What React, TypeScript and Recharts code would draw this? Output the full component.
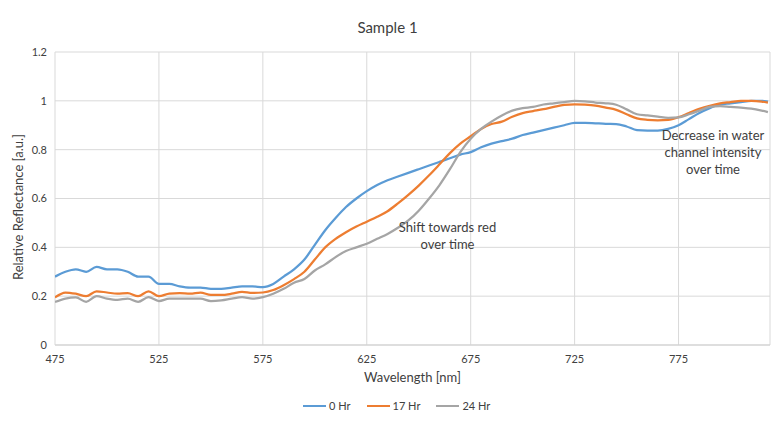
import React from 'react';
import { LineChart, Line, XAxis, YAxis, CartesianGrid } from 'recharts';

const wavelengths = [475,480,485,490,495,500,505,510,515,520,525,530,535,540,545,550,555,560,565,570,575,580,585,590,595,600,605,610,615,620,625,630,635,640,645,650,655,660,665,670,675,680,685,690,695,700,705,710,715,720,725,730,735,740,745,750,755,760,765,770,775,780,785,790,795,800,805,810,815,818];

const hr0 = [0.28,0.30,0.31,0.30,0.32,0.31,0.31,0.30,0.28,0.28,0.25,0.25,0.24,0.235,0.235,0.23,0.23,0.235,0.24,0.24,0.237,0.25,0.28,0.31,0.35,0.41,0.47,0.52,0.565,0.60,0.63,0.655,0.675,0.69,0.705,0.72,0.735,0.75,0.765,0.78,0.79,0.81,0.825,0.835,0.845,0.86,0.87,0.88,0.89,0.90,0.91,0.91,0.908,0.906,0.905,0.895,0.88,0.878,0.878,0.885,0.90,0.925,0.95,0.97,0.985,0.99,0.995,1.0,1.0,0.997];

const hr17 = [0.195,0.215,0.21,0.20,0.22,0.215,0.21,0.212,0.20,0.22,0.20,0.21,0.212,0.21,0.215,0.205,0.205,0.21,0.218,0.213,0.215,0.225,0.245,0.27,0.30,0.35,0.40,0.435,0.462,0.485,0.505,0.525,0.548,0.58,0.615,0.653,0.695,0.74,0.786,0.825,0.855,0.885,0.905,0.915,0.935,0.95,0.958,0.966,0.975,0.983,0.986,0.984,0.98,0.972,0.963,0.945,0.928,0.922,0.92,0.922,0.933,0.95,0.967,0.98,0.99,0.995,1.0,1.0,0.997,0.993];

const hr24 = [0.176,0.19,0.195,0.177,0.20,0.19,0.185,0.19,0.177,0.196,0.18,0.19,0.19,0.19,0.19,0.18,0.183,0.19,0.196,0.19,0.196,0.21,0.23,0.255,0.27,0.305,0.33,0.36,0.385,0.40,0.415,0.435,0.455,0.48,0.51,0.55,0.60,0.655,0.72,0.79,0.845,0.885,0.915,0.94,0.96,0.97,0.975,0.985,0.99,0.995,1.0,0.998,0.993,0.99,0.984,0.965,0.945,0.94,0.935,0.93,0.932,0.945,0.96,0.975,0.978,0.975,0.972,0.968,0.96,0.954];

const xTicks = [475, 525, 575, 625, 675, 725, 775];
const yTicks = [0, 0.2, 0.4, 0.6, 0.8, 1, 1.2];

const seriesNames = ['0 Hr', '17 Hr', '24 Hr'];
const seriesColors = ['#5B9BD5', '#ED7D31', '#A5A5A5'];

const data = wavelengths.map((w, i) => ({ w, a: hr0[i], b: hr17[i], c: hr24[i] }));

const FONT = 'Lato, "Open Sans", sans-serif';
const TEXT = '#404040';

export default function App() {
  const keys = ['a', 'b', 'c'];
  return (
    <div style={{ position: 'absolute', left: 0, top: 0, width: 775, height: 423, background: '#fff', fontFamily: FONT }}>
      <div style={{ position: 'absolute', left: 0, width: 775, top: 18, textAlign: 'center', fontSize: 15, color: TEXT }}>Sample 1</div>
      <LineChart width={775} height={423} data={data} margin={{ top: 52, right: 5, left: 10, bottom: 48 }}>
        <CartesianGrid stroke="#d9d9d9" strokeWidth={1} />
        <XAxis
          dataKey="w"
          type="number"
          domain={[475, 819]}
          ticks={xTicks}
          interval={0}
          allowDataOverflow
          axisLine={{ stroke: '#d0d0d0' }}
          tickLine={false}
          tick={{ fill: TEXT, fontSize: 11, fontFamily: FONT }}
          tickMargin={4}
          label={{ value: 'Wavelength [nm]', position: 'insideBottom', offset: -7, fill: TEXT, fontSize: 13, fontFamily: FONT }}
        />
        <YAxis
          type="number"
          domain={[0, 1.2]}
          ticks={yTicks}
          width={45}
          axisLine={false}
          tickLine={false}
          tick={{ fill: TEXT, fontSize: 11, fontFamily: FONT }}
          tickFormatter={(v: number) => String(Math.round(v * 10) / 10)}
        />
        {keys.map((k, i) => (
          <Line key={k} type="monotone" dataKey={k} name={seriesNames[i]} stroke={seriesColors[i]} strokeWidth={2.25} dot={false} isAnimationActive={false} />
        ))}
      </LineChart>
      <div style={{ position: 'absolute', left: 18, top: 207, width: 0, height: 0 }}>
        <div style={{ position: 'absolute', left: 0, top: 0, transform: 'translate(-50%, -50%) rotate(-90deg)', whiteSpace: 'nowrap', fontSize: 13, color: TEXT }}>
          Relative Reflectance [a.u.]
        </div>
      </div>
      <div style={{ position: 'absolute', left: 303, top: 398, display: 'flex', alignItems: 'center', fontSize: 11, color: TEXT, lineHeight: '16px' }}>
        {seriesNames.map((n, i) => (
          <span key={n} style={{ display: 'inline-flex', alignItems: 'center', marginRight: 16 }}>
            <span style={{ display: 'inline-block', width: 23, height: 2, background: seriesColors[i], marginRight: 3 }} />
            {n}
          </span>
        ))}
      </div>
      <div style={{ position: 'absolute', left: 380, width: 135, top: 219, textAlign: 'center', fontSize: 13, color: TEXT, lineHeight: '17px' }}>
        Shift towards red<br />over time
      </div>
      <div style={{ position: 'absolute', left: 643, width: 140, top: 127, textAlign: 'center', fontSize: 13, color: TEXT, lineHeight: '17px' }}>
        Decrease in water<br />channel intensity<br />over time
      </div>
    </div>
  );
}
